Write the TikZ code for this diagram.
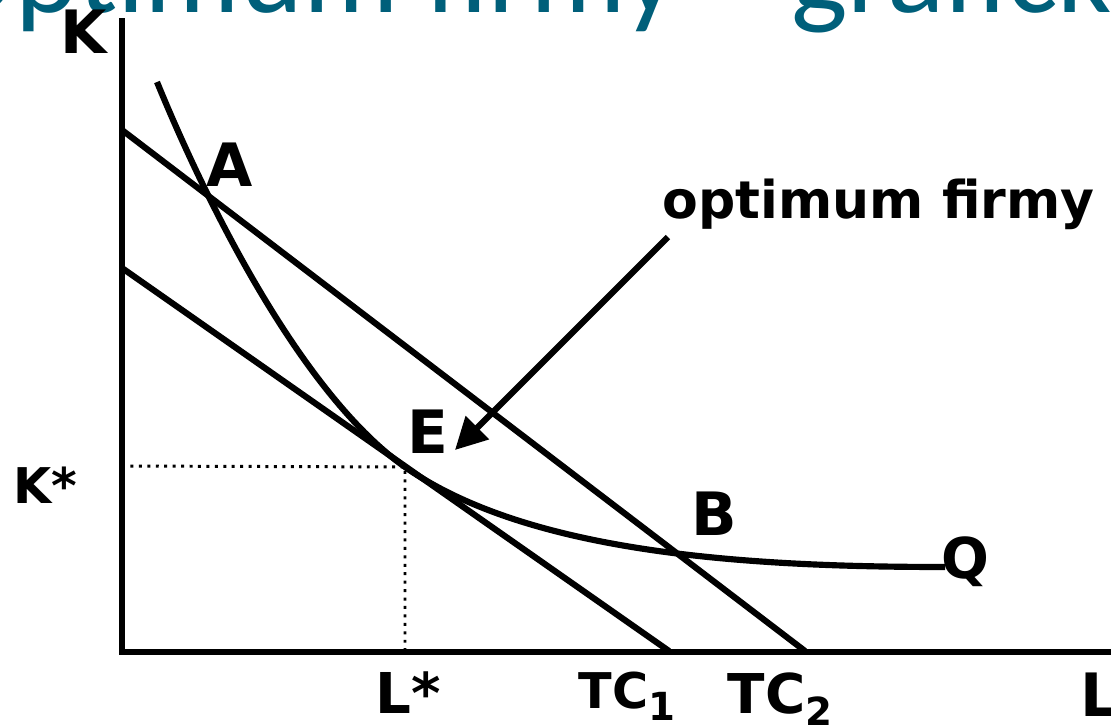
\documentclass[tikz,border=0pt]{standalone}
\usepackage{fontspec}
\setmainfont{DejaVu Sans}
\newfontfamily\titlefont{Carlito}
\usetikzlibrary{arrows.meta}
\definecolor{titleteal}{RGB}{0,95,122}
\newcommand\lowsub[1]{\raisebox{-3.5pt}{\fontsize{11pt}{12pt}\selectfont\bfseries #1}}
\begin{document}
\begin{tikzpicture}[x=0.01cm,y=-0.01cm,
  thick line/.style={line width=1.75pt},
  axisline/.style={line width=1.6pt},
  guide/.style={line width=0.85pt, dash pattern=on 0.85pt off 1.55pt},
  lbl/.style={font=\bfseries\fontsize{17pt}{20pt}\selectfont, inner sep=0pt},
  smalllbl/.style={font=\bfseries\fontsize{14pt}{16pt}\selectfont, inner sep=0pt},
  pointer/.style={line width=1.75pt, -{Triangle[length=9pt,width=9pt]}}
]
\useasboundingbox (0,0) rectangle (1111,727);
\clip (0,0) rectangle (1111,727);

% clipped title
\node[anchor=base west, inner sep=0pt, text=titleteal,
      font=\titlefont\fontsize{34pt}{40pt}\selectfont] (title) at (-64,12)
      {Optimum firmy – grafické};

% axes
\coordinate (origin) at (122,652);
\coordinate (ytop) at (122,18);
\coordinate (xend) at (1115,652);
\draw[axisline] (ytop) -- (origin) -- (xend);

% budget lines
\coordinate (tc2a) at (122,130);
\coordinate (tc2b) at (805,651);
\coordinate (tc1a) at (122,268);
\coordinate (tc1b) at (669,651);
\draw[thick line] (tc2a) -- (tc2b);
\draw[thick line] (tc1a) -- (tc1b);

% isoquant
\coordinate (qs) at (157,82);
\coordinate (Ept) at (405,467);
\coordinate (qe) at (945,567);
\draw[thick line] (qs) .. controls (214,221) and (307,398) .. (Ept)
                       .. controls (528,553) and (745,567) .. (qe);

% guides
\coordinate (kstar) at (122,466);
\coordinate (lstar) at (405,652);
\draw[guide] (kstar) -- (Ept) -- (lstar);

% arrow
\coordinate (arrS) at (668,237);
\coordinate (arrT) at (455,450);
\draw[pointer] (arrS) -- (arrT);

% labels
\node[lbl] (K) at (84,32) {K};
\node[smalllbl] (Ks) at (45,485) {K*};
\node[lbl] (A) at (230,165) {A};
\node[lbl] (E) at (428,432) {E};
\node[lbl] (B) at (714,514) {B};
\node[lbl, font=\bfseries\fontsize{16pt}{18pt}\selectfont] (Q) at (965,562) {Q};
\node[lbl, font=\bfseries\fontsize{16pt}{18pt}\selectfont] (Ls) at (408,693) {L*};
\node[smalllbl, anchor=base west] (TC1) at (578,708) {TC\lowsub{1}};
\node[lbl, font=\bfseries\fontsize{15.6pt}{18pt}\selectfont, anchor=base west] (TC2) at (727,713) {TC\lowsub{2}};
\node[lbl, anchor=base west] (L) at (1080,716) {L};
\node[lbl, font=\bfseries\fontsize{14.8pt}{18pt}\selectfont, anchor=base west] (opt) at (662,218) {optimum firmy};
\end{tikzpicture}
\end{document}
